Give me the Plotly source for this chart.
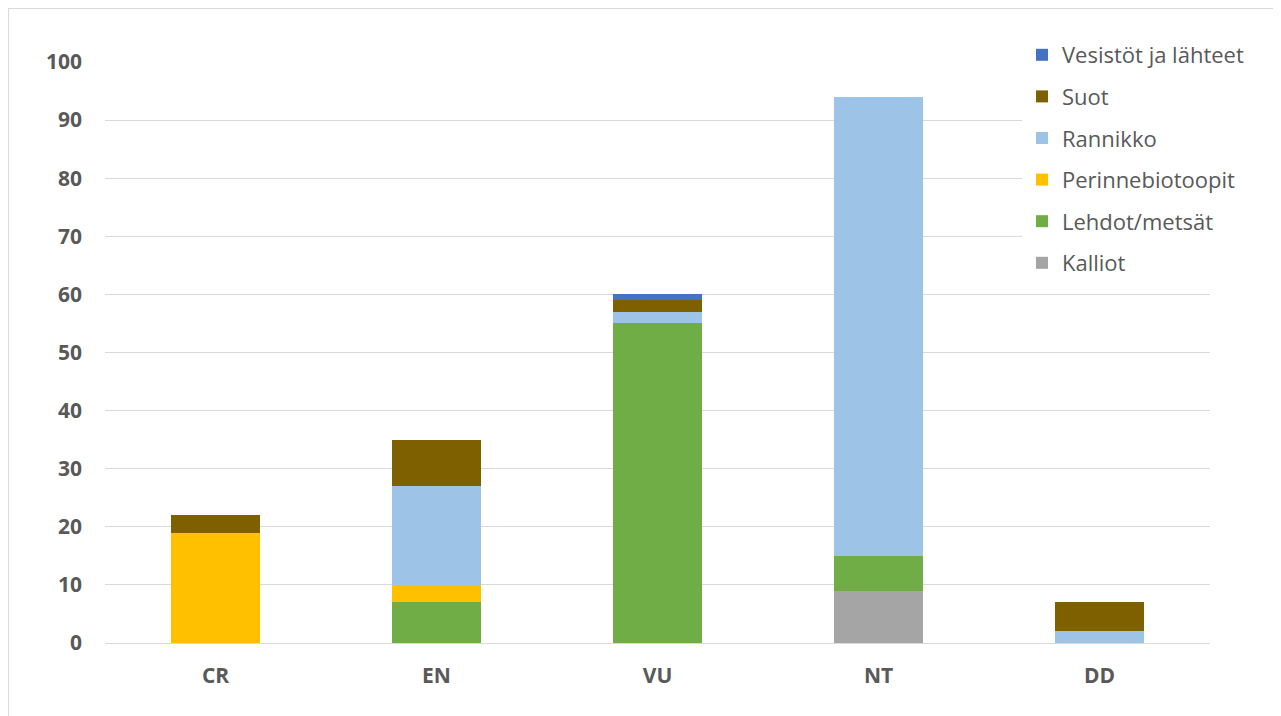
import plotly.graph_objects as go

categories = ["CR", "EN", "VU", "NT", "DD"]
series_names = ["Kalliot", "Lehdot/metsät", "Perinnebiotoopit", "Rannikko", "Suot", "Vesistöt ja lähteet"]
kalliot = [0, 0, 0, 9, 0]
lehdot = [0, 7, 55, 6, 0]
perinne = [19, 3, 0, 0, 0]
rannikko = [0, 17, 2, 79, 2]
suot = [3, 8, 2, 0, 5]
vesistot = [0, 0, 1, 0, 0]
y_ticks = [0, 10, 20, 30, 40, 50, 60, 70, 80, 90, 100]

values = [kalliot, lehdot, perinne, rannikko, suot, vesistot]
colors = ["#A5A5A5", "#70AD47", "#FFC000", "#9DC3E6", "#7F6000", "#4472C4"]

W, H = 1281, 716
ML, MR, MT, MB = 97, 79, 54, 81

fig = go.Figure()
for i, (name, vals, col) in enumerate(zip(series_names, values, colors)):
    fig.add_trace(go.Bar(
        x=categories, y=vals, name=name,
        marker=dict(color=col, line=dict(width=0)),
        legendgroup=name, legendrank=100 - i,
        hoverinfo="x+y+name",
    ))

pw = W - ML - MR
ph = H - MT - MB
fig.add_shape(type="rect", xref="paper", yref="paper",
              x0=(0.5 - ML) / pw, x1=(W - 9 - ML) / pw,
              y0=-(H + 20 - MT - ph) / ph, y1=1 + (MT - 0.5) / ph,
              line=dict(color="#D9D9D9", width=1), fillcolor="rgba(0,0,0,0)", layer="below")

tick_font = dict(size=21, family="Open Sans", color="#595959", weight="bold")
fig.update_layout(
    width=W, height=H,
    barmode="stack", bargap=0.6,
    margin=dict(l=ML, r=MR, t=MT, b=MB),
    paper_bgcolor="white", plot_bgcolor="white",
    font=dict(family="Open Sans", color="#595959"),
    xaxis=dict(showgrid=False, showline=True, linecolor="#D9D9D9", linewidth=1,
               tickfont=tick_font, ticks="", ticklabelstandoff=14),
    yaxis=dict(range=[0, 100], tickvals=y_ticks, showgrid=True, gridcolor="#D9D9D9",
               gridwidth=1, zeroline=False, showline=False,
               tickfont=tick_font, ticklabelstandoff=22),
    legend=dict(x=(1014 - ML) / pw, xanchor="left", y=1 + (MT - 26) / ph, yanchor="top",
                bgcolor="white", font=dict(size=22, family="Open Sans", color="#595959"),
                tracegroupgap=10, itemwidth=30),
    showlegend=True,
)

fig.write_html("out.html")
